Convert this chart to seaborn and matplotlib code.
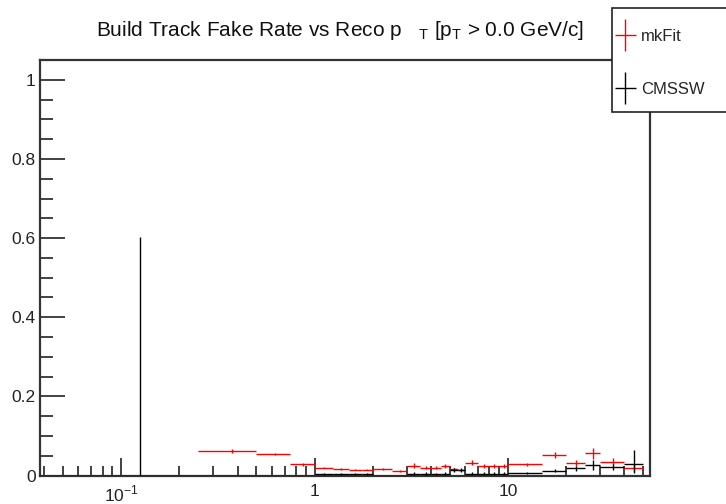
import numpy as np
import matplotlib
matplotlib.use("Agg")
import matplotlib.pyplot as plt
import seaborn as sns
from matplotlib.ticker import FixedLocator, NullFormatter, FuncFormatter
from matplotlib.legend_handler import HandlerErrorbar
from matplotlib.container import ErrorbarContainer
from matplotlib.patches import Rectangle

# ---- data ----
bin_edges = [0, 0.25, 0.5, 0.75, 1.0, 1.25, 1.5, 1.75, 2.0, 2.5, 3.0, 3.5, 4.0,
             4.5, 5.0, 5.5, 6.0, 7.0, 8.0, 9.0, 10.0, 15.0, 20.0, 25.0, 30.0, 40.0, 50.0]
mkfit_rate = [np.nan, 0.062, 0.054, 0.028, 0.020, 0.016, 0.015, 0.015, 0.017, 0.012,
              0.025, 0.020, 0.020, 0.025, 0.016, 0.014, 0.032, 0.025, 0.025, 0.025,
              0.028, 0.052, 0.031, 0.056, 0.035, 0.020]
mkfit_err = [0.0, 0.004, 0.003, 0.003, 0.002, 0.002, 0.002, 0.002, 0.002, 0.002,
             0.006, 0.003, 0.003, 0.005, 0.003, 0.003, 0.006, 0.005, 0.005, 0.005,
             0.004, 0.007, 0.007, 0.014, 0.008, 0.008]
cmssw_rate = [0.0, 0.0, 0.0, 0.0, 0.004, 0.004, 0.004, 0.004, 0.0, 0.0,
              0.005, 0.005, 0.004, 0.005, 0.013, 0.013, 0.005, 0.005, 0.005, 0.005,
              0.006, 0.012, 0.018, 0.027, 0.021, 0.029]
cmssw_err_lo = [0.0, 0.0, 0.0, 0.0, 0.002, 0.002, 0.002, 0.002, 0.0, 0.0,
                0.003, 0.003, 0.003, 0.003, 0.005, 0.005, 0.003, 0.003, 0.003, 0.003,
                0.002, 0.004, 0.006, 0.012, 0.008, 0.023]
cmssw_err_hi = [0.602, 0.0, 0.0, 0.0, 0.002, 0.002, 0.002, 0.002, 0.0, 0.0,
                0.003, 0.003, 0.003, 0.003, 0.005, 0.005, 0.003, 0.003, 0.003, 0.003,
                0.002, 0.004, 0.006, 0.012, 0.008, 0.035]
series_labels = ["mkFit", "CMSSW"]
title_text = r"Build Track Fake Rate vs Reco p   $_\mathregular{T}$ [p$_\mathregular{T}$ > 0.0 GeV/c]"

sns.set_theme(style="white")
plt.rcParams['font.family'] = ['Liberation Sans', 'DejaVu Sans']
plt.rcParams['mathtext.fontset'] = 'custom'
plt.rcParams['mathtext.rm'] = 'Liberation Sans'

edges = np.array(bin_edges)
centers = 0.5 * (edges[:-1] + edges[1:])
half = 0.5 * (edges[1:] - edges[:-1])

W, H = 726, 504
fig = plt.figure(figsize=(W / 100, H / 100), dpi=100)
ax = fig.add_axes([40/W, 1 - 475.5/H, 610/W, 415.5/H])

h_mk = ax.errorbar(centers, mkfit_rate, xerr=half, yerr=mkfit_err, fmt='none',
                   ecolor='red', elinewidth=1.0, capsize=0, zorder=3)
h_cm = ax.errorbar(centers, cmssw_rate, xerr=half,
                   yerr=[cmssw_err_lo, cmssw_err_hi], fmt='none',
                   ecolor='black', elinewidth=1.0, capsize=0, zorder=4)

ax.set_xscale('log', nonpositive='clip')
ax.set_xlim(0.038, 54.3)
ax.set_ylim(0, 1.05)

ax.yaxis.set_major_locator(FixedLocator([0, 0.2, 0.4, 0.6, 0.8, 1.0]))
ax.yaxis.set_minor_locator(FixedLocator(np.arange(0, 1.05, 0.05)))
ax.yaxis.set_major_formatter(FuncFormatter(lambda v, p: "0" if v == 0 else ("1" if v == 1 else f"{v:.1f}")))
ax.xaxis.set_major_formatter(FuncFormatter(lambda v, p: {0.1: r"10$^{-1}$", 1.0: "1", 10.0: "10"}.get(round(v, 3), "")))
ax.xaxis.set_minor_formatter(NullFormatter())

ax.tick_params(axis='both', which='both', direction='in', colors='#333333',
               labelcolor='#222222', labelsize=12.5, top=False, right=False)
ax.tick_params(axis='y', which='major', length=18, width=1.3, left=True, pad=3)
ax.tick_params(axis='y', which='minor', length=9, width=1.3, left=True)
ax.tick_params(axis='x', which='major', length=13, width=1.3, bottom=True, pad=6)
ax.tick_params(axis='x', which='minor', length=7, width=1.3, bottom=True)

for s in ax.spines.values():
    s.set_color('#333333')
    s.set_linewidth(1.6)
ax.grid(False)

fig.text(0.468, 0.94, title_text, ha='center', va='center', fontsize=15, color='#111111')

# legend box (ROOT TLegend style) spanning to the figure's right edge
fig.patches.append(Rectangle((612/W, 1 - 112/H), (W - 612)/W + 0.01, 104/H,
                             transform=fig.transFigure, facecolor='white',
                             edgecolor='#222222', linewidth=1.2, zorder=5))
leg = fig.legend([h_mk, h_cm], series_labels, loc='upper left',
                 bbox_to_anchor=(614.5/W, 1 - 29/H), borderaxespad=0,
                 frameon=False, fontsize=12,
                 handlelength=1.3, handletextpad=0.3,
                 labelspacing=2.28, borderpad=0.0,
                 handler_map={ErrorbarContainer: HandlerErrorbar(xerr_size=0.62, yerr_size=0.95)})
leg.set_zorder(6)

fig.savefig("out.png", dpi=100)
